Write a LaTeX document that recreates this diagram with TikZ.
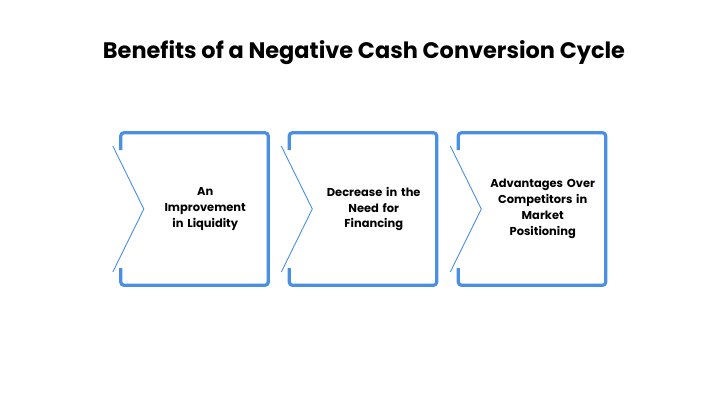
\documentclass[tikz,border=0pt]{standalone}
\usepackage{fontspec}
\setmainfont{Poppins}
\usepackage{tikz}
\usetikzlibrary{positioning, calc}
\definecolor{frameblue}{HTML}{4A90E2}

\begin{document}
\begin{tikzpicture}[
    x=1bp, y=-1bp,
    card/.style={rectangle, minimum width=147bp, minimum height=152bp, inner sep=0pt},
    label/.style={text width=125bp, align=center, font=\fontsize{11.5}{16}\selectfont\bfseries},
    frame/.style={frameblue, line width=3.2bp, rounded corners=3bp},
    chevron/.style={frameblue, line width=0.9bp}
]
\useasboundingbox[fill=white] (0,0) rectangle (720,404);

% Title
\node[font=\fontsize{22.5}{26}\selectfont\bfseries] (title) at (364,53) {Benefits of a Negative Cash Conversion Cycle};

% Cards
\node[card] (c1) at (194.5,209) {};
\node[card] (c2) at (363,209) {};
\node[card] (c3) at (532,209) {};

\node[label, right=-129bp of c1] (t1) {An\\Improvement\\in Liquidity};
\node[label, right=-129bp of c2] (t2) {Decrease in the\\Need for\\Financing};
\node[label, right=-129bp of c3] (t3) {Advantages Over\\Competitors in\\Market\\Positioning};

% Frames with chevron openings
\foreach \c in {c1,c2,c3}{
  \draw[frame] ($(\c.west)+(0,-59)$) |- (\c.north east) |- (\c.south west) -- ++(0,-17);
  \draw[chevron] ($(\c.west)+(-8,-63)$) -- ($(\c.west)+(23,0)$) -- ($(\c.west)+(-8,63)$);
}
\end{tikzpicture}
\end{document}
